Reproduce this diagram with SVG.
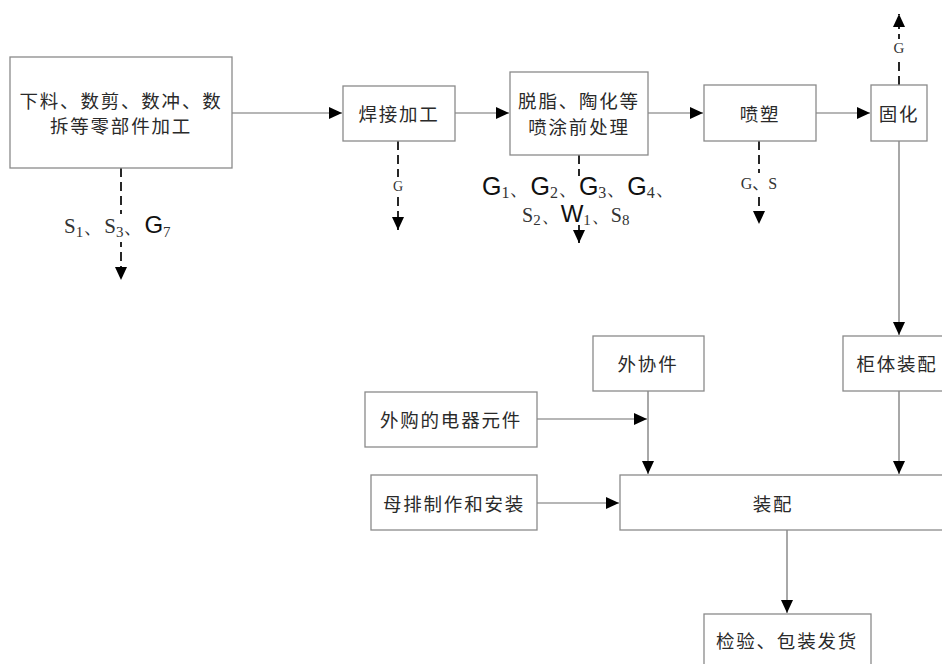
<svg xmlns="http://www.w3.org/2000/svg" width="942" height="664" viewBox="0 0 942 664">
<style>
.box{fill:#fff;stroke:#8a8a8a;stroke-width:1.3}
.t{font-family:"Noto Sans CJK SC",sans-serif;font-size:18.5px;fill:#2a2a2a;letter-spacing:1.8px;text-anchor:middle;dominant-baseline:central}
.ln{stroke:#6e6e6e;stroke-width:1.2;fill:none}
.dl{stroke:#111;stroke-width:1.8;stroke-dasharray:9,5;fill:none}
.s{font-family:"Liberation Serif",serif;fill:#333}
.g{font-family:"Liberation Sans",sans-serif;fill:#111}
.lab{font-family:"Liberation Serif","Noto Sans CJK SC",serif;fill:#333;text-anchor:middle;dominant-baseline:central}
</style>
<defs>
<marker id="ah" markerUnits="userSpaceOnUse" markerWidth="14" markerHeight="12" refX="13" refY="6" orient="auto">
<path d="M0,0 L13,6 L0,12 Z" fill="#000"/>
</marker>
</defs>
<rect width="942" height="664" fill="#fff"/>
<g id="connectors">
<path class="ln" d="M232,113 H342" marker-end="url(#ah)"/>
<path class="ln" d="M455,113 H509" marker-end="url(#ah)"/>
<path class="ln" d="M648,113 H703" marker-end="url(#ah)"/>
<path class="ln" d="M816,113 H870" marker-end="url(#ah)"/>
<path class="ln" d="M899,141 V335" marker-end="url(#ah)"/>
<path class="ln" d="M899,391 V474" marker-end="url(#ah)"/>
<path class="ln" d="M648,391 V474" marker-end="url(#ah)"/>
<path class="ln" d="M537,419 H647" marker-end="url(#ah)"/>
<path class="ln" d="M537,503 H619" marker-end="url(#ah)"/>
<path class="ln" d="M787,530 V613" marker-end="url(#ah)"/>
<path class="dl" d="M121,168 V280" marker-end="url(#ah)"/>
<path class="dl" d="M398,141 V230" marker-end="url(#ah)"/>
<path class="dl" d="M579,155 V243" marker-end="url(#ah)"/>
<path class="dl" d="M759,141 V224" marker-end="url(#ah)"/>
<path class="dl" d="M899,85 V14" marker-end="url(#ah)"/>
</g>
<g id="labels">
<rect x="62" y="214" width="118" height="28" fill="#fff"/>
<text x="64" y="233" font-size="21"><tspan class="s">S</tspan><tspan class="s" font-size="15" dy="4">1</tspan><tspan class="s" dy="-4">、S</tspan><tspan class="s" font-size="15" dy="4">3</tspan><tspan class="s" dy="-4">、</tspan><tspan class="g" font-size="24">G</tspan><tspan class="s" font-size="15" dy="4">7</tspan></text>
<rect x="390" y="177" width="16" height="18" fill="#fff"/>
<text class="lab" x="398" y="186" font-size="14">G</text>
<rect x="482" y="176" width="195" height="48" fill="#fff"/>
<text x="482" y="195" font-size="25"><tspan class="g">G</tspan><tspan class="s" font-size="16" dy="3">1</tspan><tspan class="s" font-size="21" dy="-3">、</tspan><tspan class="g">G</tspan><tspan class="s" font-size="16" dy="3">2</tspan><tspan class="s" font-size="21" dy="-3">、</tspan><tspan class="g">G</tspan><tspan class="s" font-size="16" dy="3">3</tspan><tspan class="s" font-size="21" dy="-3">、</tspan><tspan class="g">G</tspan><tspan class="s" font-size="16" dy="3">4</tspan><tspan class="s" font-size="21" dy="-3">、</tspan></text>
<text x="522" y="222" font-size="20"><tspan class="s">S</tspan><tspan class="s" font-size="15" dy="3">2</tspan><tspan class="s" dy="-3">、</tspan><tspan class="g" font-size="24">W</tspan><tspan class="s" font-size="15" dy="3">1</tspan><tspan class="s" dy="-3">、S</tspan><tspan class="s" font-size="15" dy="3">8</tspan></text>
<rect x="735" y="173" width="48" height="20" fill="#fff"/>
<text class="lab" x="759" y="183" font-size="16">G、S</text>
<rect x="891" y="39" width="16" height="20" fill="#fff"/>
<text class="lab" x="899" y="48" font-size="15">G</text>
</g>
<g id="n1"><rect class="box" x="10" y="57" width="222" height="111"/><text class="t" x="121" y="100">下料、数剪、数冲、数</text><text class="t" x="121" y="125">拆等零部件加工</text></g>
<g id="n2"><rect class="box" x="343" y="86" width="112" height="55"/><text class="t" x="399" y="113">焊接加工</text></g>
<g id="n3"><rect class="box" x="510" y="72" width="138" height="83"/><text class="t" x="579" y="100">脱脂、陶化等</text><text class="t" x="579" y="126">喷涂前处理</text></g>
<g id="n4"><rect class="box" x="704" y="85" width="112" height="56"/><text class="t" x="760" y="113">喷塑</text></g>
<g id="n5"><rect class="box" x="871" y="85" width="56" height="56"/><text class="t" x="899" y="113">固化</text></g>
<g id="n6"><rect class="box" x="593" y="336" width="111" height="55"/><text class="t" x="648" y="363">外协件</text></g>
<g id="n7"><rect class="box" x="843" y="336" width="110" height="55"/><text class="t" x="897" y="363">柜体装配</text></g>
<g id="n8"><rect class="box" x="365" y="392" width="172" height="55"/><text class="t" x="451" y="419">外购的电器元件</text></g>
<g id="n9"><rect class="box" x="371" y="475" width="166" height="55"/><text class="t" x="454" y="503">母排制作和安装</text></g>
<g id="n10"><rect class="box" x="620" y="475" width="330" height="55"/><text class="t" x="773" y="503">装配</text></g>
<g id="n11"><rect class="box" x="704" y="614" width="167" height="60"/><text class="t" x="787" y="640">检验、包装发货</text></g>
</svg>
